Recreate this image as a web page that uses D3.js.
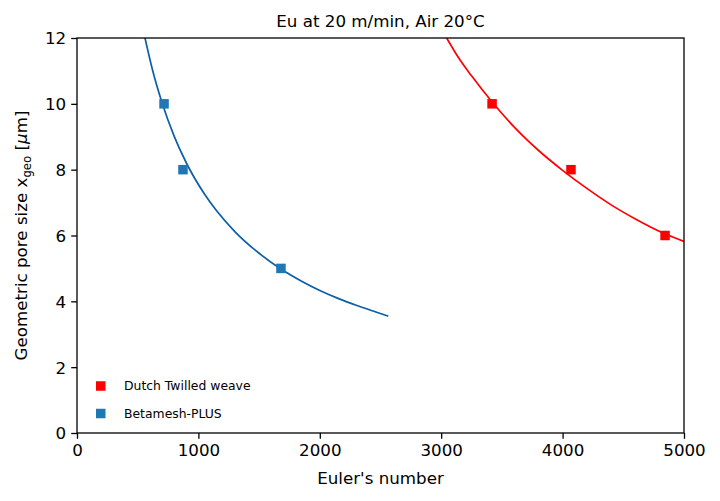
<!DOCTYPE html>
<html>
<head>
<meta charset="utf-8">
<script src="https://cdn.jsdelivr.net/npm/d3@7"></script>
<style>
  body { margin: 0; background: #fff; }
  svg { display: block; font-family: "DejaVu Sans", sans-serif; }
</style>
</head>
<body>
<svg id="chart" width="720" height="501"></svg>
<script>
// ---- data ----
const seriesNames = ["Dutch Twilled weave", "Betamesh-PLUS"];
const seriesColors = ["#ff0000", "#1f77b4"];
const lineColors = ["#ff0000", "#0b5fa9"];

// measured points
const dtwEu = [3419, 4069, 4844];
const dtwX  = [10, 8, 6];
const bmpEu = [717, 873, 1680];
const bmpX  = [10, 8, 5];

// fitted curves
const dtwFitEu = [3045, 3150, 3250, 3416, 3600, 3800, 4000, 4200, 4400, 4600, 4800, 5000];
const dtwFitX  = [12.0, 11.36, 10.85, 10.07, 9.30, 8.59, 7.98, 7.43, 6.93, 6.50, 6.12, 5.82];
const bmpFitEu = [560, 620, 700, 800, 900, 1050, 1150, 1300, 1500, 1680, 1850, 2000, 2150, 2300, 2450, 2564];
const bmpFitX  = [12.0, 11.06, 10.04, 9.02, 8.21, 7.26, 6.75, 6.12, 5.46, 4.98, 4.61, 4.33, 4.09, 3.88, 3.69, 3.55];

const xTicks = [0, 1000, 2000, 3000, 4000, 5000];
const yTicks = [0, 2, 4, 6, 8, 10, 12];

// ---- layout ----
const svg = d3.select("#chart");
const L = 77, R = 684, T = 38, B = 433;
const x = d3.scaleLinear().domain([0, 5000]).range([L, R]);
const y = d3.scaleLinear().domain([0, 12]).range([B, T]);

svg.append("defs").append("clipPath").attr("id", "clip")
  .append("rect").attr("x", L).attr("y", T).attr("width", R - L).attr("height", B - T);

const plot = svg.append("g").attr("clip-path", "url(#clip)");

const line = d3.line().x(d => x(d[0])).y(d => y(d[1])).curve(d3.curveMonotoneX);

const fits = [
  d3.zip(dtwFitEu, dtwFitX),
  d3.zip(bmpFitEu, bmpFitX)
];
fits.forEach((pts, i) => {
  plot.append("path").datum(pts)
    .attr("d", line)
    .attr("fill", "none")
    .attr("stroke", lineColors[i])
    .attr("stroke-width", 1.7);
});

const pts = [d3.zip(dtwEu, dtwX), d3.zip(bmpEu, bmpX)];
const ms = 9.5;
pts.forEach((arr, i) => {
  plot.selectAll(null).data(arr).enter().append("rect")
    .attr("x", d => x(d[0]) - ms / 2)
    .attr("y", d => y(d[1]) - ms / 2)
    .attr("width", ms).attr("height", ms)
    .attr("fill", seriesColors[i]);
});

// axes
const fs = 16.7;
const xAxis = svg.append("g").attr("transform", `translate(0,${B})`)
  .call(d3.axisBottom(x).tickValues(xTicks).tickFormat(d3.format("d")).tickSizeOuter(0).tickSize(5.8).tickPadding(5));
const yAxis = svg.append("g").attr("transform", `translate(${L},0)`)
  .call(d3.axisLeft(y).tickValues(yTicks).tickFormat(d3.format("d")).tickSizeOuter(0).tickSize(5.8).tickPadding(5));
[xAxis, yAxis].forEach(a => {
  a.select(".domain").remove();
  a.selectAll("line").attr("stroke", "#000").attr("stroke-width", 1.3);
  a.selectAll("text").attr("font-size", fs).attr("font-family", "DejaVu Sans").attr("fill", "#000");
});
yAxis.selectAll("text").attr("dy", "0.35em");

// frame
svg.append("rect").attr("x", L).attr("y", T).attr("width", R - L).attr("height", B - T)
  .attr("fill", "none").attr("stroke", "#000").attr("stroke-width", 1.3);

// title & labels
svg.append("text").attr("x", (L + R) / 2).attr("y", 27).attr("text-anchor", "middle")
  .attr("font-size", fs).text("Eu at 20 m/min, Air 20°C");
svg.append("text").attr("x", (L + R) / 2).attr("y", 484).attr("text-anchor", "middle")
  .attr("font-size", fs).text("Euler's number");
const yl = svg.append("text").attr("transform", `translate(27,${(T + B) / 2}) rotate(-90)`)
  .attr("text-anchor", "middle").attr("font-size", fs);
yl.append("tspan").text("Geometric pore size x");
yl.append("tspan").attr("font-size", fs * 0.7).attr("dy", 4).text("geo");
yl.append("tspan").attr("dy", -4).text(" [");
yl.append("tspan").attr("font-style", "italic").text("μ");
yl.append("tspan").text("m]");

// legend
const lg = svg.append("g");
seriesNames.forEach((name, i) => {
  const cy = 386 + i * 27.5;
  lg.append("rect").attr("x", 96).attr("y", cy - 4.75).attr("width", ms).attr("height", ms)
    .attr("fill", seriesColors[i]);
  lg.append("text").attr("x", 124).attr("y", cy).attr("dy", "0.35em")
    .attr("font-size", 12.4).text(name);
});
</script>
</body>
</html>
